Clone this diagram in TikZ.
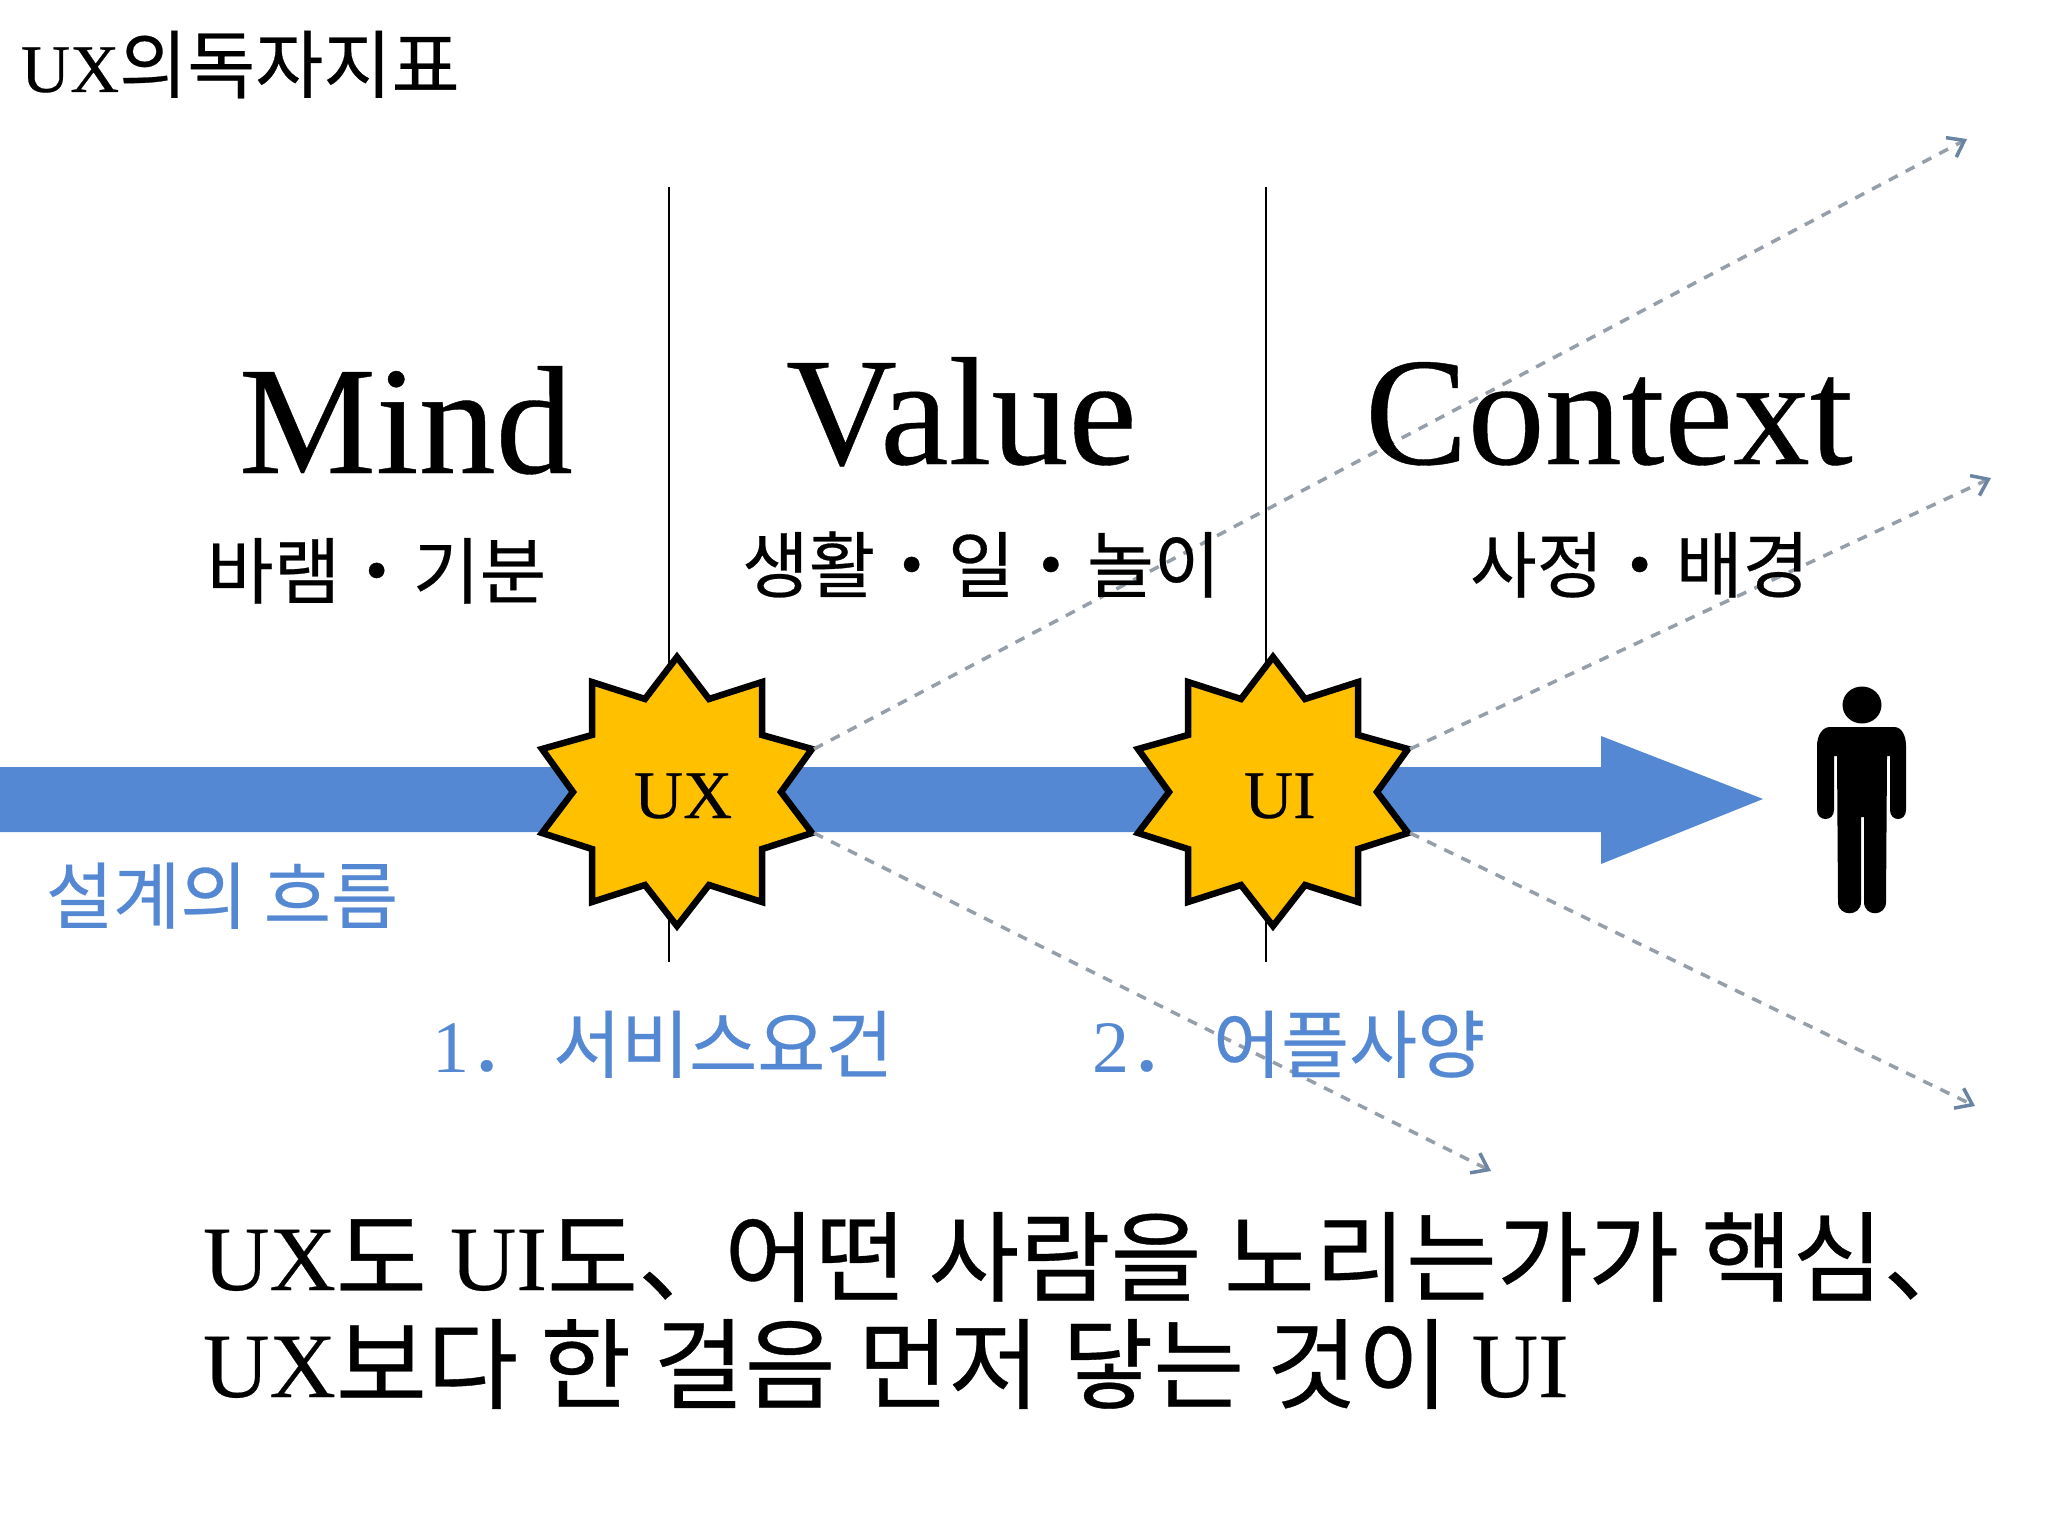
\documentclass[tikz,border=0pt]{standalone}
\usepackage{fontspec}
\setmainfont[FakeBold=0.25]{Liberation Serif}
\newfontfamily\plainserif{Liberation Serif}
\newfontfamily\kr[FakeBold=0.35]{Noto Sans CJK KR}
\usetikzlibrary{arrows.meta}
\definecolor{bandblue}{HTML}{5588D2}
\definecolor{dashgrey}{HTML}{949FA9}
\definecolor{tipblue}{HTML}{6A84A4}
\definecolor{burstfill}{HTML}{FFC000}
\newcommand{\fs}[1]{\fontsize{#1}{#1}\selectfont}
\newcommand{\lowkr}[1]{\raisebox{-4pt}{\kr\fs{99}#1}}
\newcommand{\burst}[3]{%
  \begin{scope}[shift={(#2,792)}]
    \draw[burststyle] (0,-135) -- (32,-93) -- (85,-110) -- (85,-57) -- (135,-43)
      -- (104,0) -- (135,41) -- (85,57) -- (85,110) -- (32,93) -- (0,134)
      -- (-32,93) -- (-85,110) -- (-85,57) -- (-135,41) -- (-104,0) -- (-135,-43)
      -- (-85,-57) -- (-85,-110) -- (-32,-93) -- cycle;
    \coordinate (#1NE) at (137,-43);
    \coordinate (#1SE) at (137,41);
    \coordinate (#1c) at (0,0);
  \end{scope}}
\tikzset{
  x=1pt,y=-1pt,
  burststyle/.style={draw=black,fill=burstfill,line width=6.5pt,line join=miter},
  divider/.style={draw=black,line width=2pt},
  band/.style={fill=bandblue,draw=none},
  flow/.style={draw=dashgrey,line width=3.5pt,dash pattern=on 10pt off 9pt,
    -{Straight Barb[length=15pt,width=22pt,line width=3.5pt,color=tipblue]}},
  txt/.style={anchor=base west,inner sep=0pt,outer sep=0pt,text=black},
  head/.style={txt,font=\fs{154}},
  sub/.style={txt,font=\kr\fs{72.5}},
  blue/.style={txt,font=\kr\fs{74},text=bandblue},
  main/.style={txt,font=\fs{92}},
}
\begin{document}
\begin{tikzpicture}
\useasboundingbox (0,0) rectangle (2048,1536);
\fill[white] (0,0) rectangle (2048,1536);
\coordinate (l1t) at (669,187); \coordinate (l1b) at (669,962);
\coordinate (l2t) at (1266,187); \coordinate (l2b) at (1266,962);
\draw[divider] (l1t) -- (l1b);
\draw[divider] (l2t) -- (l2b);
\fill[band] (0,767) -- (1601,767) -- (1601,736) -- (1763,799) -- (1601,864) -- (1601,832) -- (0,832) -- cycle;
\burst{ux}{677}{}
\burst{ui}{1273}{}
\coordinate (e1) at (1967,139);
\coordinate (e2) at (1991,478);
\coordinate (e3) at (1975,1106);
\coordinate (e4) at (1491,1171);
\draw[flow] (uxNE) -- (e1);
\draw[flow] (uiNE) -- (e2);
\draw[flow] (uiSE) -- (e3);
\draw[flow] (uxSE) -- (e4);
% person
\fill[black] (1862,705) ellipse [x radius=19.5, y radius=18.5];
\fill[black]
  (1830,727) -- (1894,727) .. controls (1902,727) and (1906,736) .. (1906,746)
  -- (1906,810) .. controls (1906,822) and (1890,822) .. (1890,810)
  -- (1890,756) -- (1887,756) -- (1886,902) .. controls (1886,917) and (1864,917) .. (1864,902)
  -- (1864,817) -- (1861,817) -- (1861,902) .. controls (1861,917) and (1838,917) .. (1838,902)
  -- (1837,756) -- (1834,756) -- (1834,810) .. controls (1834,822) and (1817,822) .. (1817,810)
  -- (1817,746) .. controls (1817,736) and (1822,727) .. (1830,727) -- cycle;
% texts
\node[txt,font=\fs{68}] (title) at (21,92) {UX{\kr\fs{74}의독자지표}};
\node[head] (mind) at (239,473) {Mind};
\node[head] (value) at (786,464) {Value};
\node[head] (context) at (1365,464) {Context};
\node[sub] (s1) at (207,598) {바램・기분};
\node[sub] (s2) at (742,592) {생활・일・놀이};
\node[sub] (s3) at (1470,592) {사정・배경};
\node[txt,font=\fs{68}] (uxt) at (634,818) {UX};
\node[txt,font=\fs{68}] (uit) at (1244,818) {UI};
\node[blue,font=\kr\fs{73}] (flowt) at (46,923) {설계의 흐름};
\node[blue] (req) at (432,1072) {{\plainserif 1}．\hspace{10pt}서비스요건};
\node[blue] (spec) at (1092,1072) {{\plainserif 2}．\hspace{10pt}어플사양};
\node[main] (m1) at (203,1290) {UX\lowkr{도} UI\lowkr{도、\hspace{-13pt}어떤 사람을 노리는가가 핵심、}};
\node[main] (m2) at (203,1397) {UX\lowkr{보다 한 걸음 먼저 닿는 것이} UI};
\end{tikzpicture}
\end{document}
